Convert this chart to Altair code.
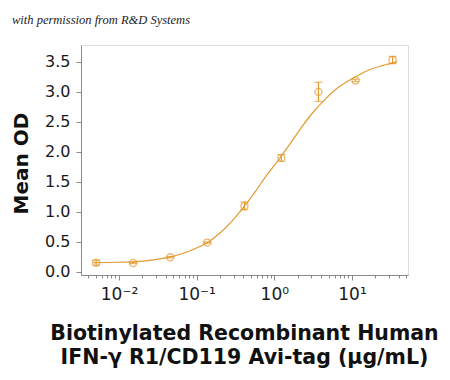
import altair as alt
import pandas as pd

# measured points
conc = [0.00508, 0.0152, 0.0457, 0.137, 0.412, 1.23, 3.70, 11.1, 33.3]
mean_od = [0.155, 0.150, 0.245, 0.490, 1.10, 1.90, 3.00, 3.19, 3.53]
sem = [0.04, 0.01, 0.01, 0.01, 0.065, 0.055, 0.16, 0.02, 0.06]

# fitted curve (log10 concentration, OD)
curve_log = [-2.33, -2.0, -1.8, -1.6, -1.4, -1.2, -1.0, -0.85, -0.7, -0.55, -0.4,
             -0.25, -0.1, 0.05, 0.2, 0.35, 0.5, 0.65, 0.8, 0.95, 1.1, 1.25, 1.4, 1.58]
curve_od = [0.155, 0.162, 0.172, 0.195, 0.235, 0.30, 0.40, 0.50, 0.65, 0.84, 1.07,
            1.33, 1.61, 1.86, 2.13, 2.41, 2.66, 2.87, 3.05, 3.18, 3.29, 3.38, 3.44, 3.50]

decade_labels = {0.01: "10⁻²", 0.1: "10⁻¹", 1: "10⁰", 10: "10¹"}
y_ticks = [0.0, 0.5, 1.0, 1.5, 2.0, 2.5, 3.0, 3.5]

x_domain = [0.003243, 52.6]
y_domain = [-0.05, 3.78]

x_ticks = [m * 10 ** e for e in range(-3, 2) for m in range(1, 10)]
x_ticks = [round(v, 6) for v in x_ticks if x_domain[0] <= v <= x_domain[1]]

pts = pd.DataFrame({"conc": conc, "od": mean_od,
                    "lo": [m - s for m, s in zip(mean_od, sem)],
                    "hi": [m + s for m, s in zip(mean_od, sem)]})
crv = pd.DataFrame({"conc": [10 ** v for v in curve_log], "od": curve_od})

COLOR = "#E39A2E"
AXC = "#8a8a8a"
FONT = "DejaVu Sans"

label_expr = " : ".join(
    f"datum.value == {k} ? '{v}'" for k, v in decade_labels.items()) + " : ''"
is_decade = "abs(log(datum.value)/LN10 - round(log(datum.value)/LN10)) < 0.001"

x_axis = alt.Axis(
    values=x_ticks, labelExpr=label_expr, labelOverlap=False, labelFlush=False,
    tickSize={"condition": {"test": is_decade, "value": 5}, "value": 3},
    tickColor=AXC, domainColor=AXC, grid=False,
    labelFont=FONT, labelFontSize=17, labelColor="#1a1a1a", labelPadding=6,
    title=["Biotinylated Recombinant Human", "IFN-γ R1/CD119 Avi-tag (µg/mL)"],
    titleFont=FONT, titleFontSize=20.5, titleFontWeight="bold", titleColor="#111111",
    titleLineHeight=24, titleBaseline="alphabetic", titleY=64, titleX=163,
    titleAnchor="middle",
)
y_axis = alt.Axis(
    values=y_ticks, format=".1f", tickSize=5, tickColor=AXC, domainColor=AXC,
    grid=False, labelFont=FONT, labelFontSize=16, labelColor="#1a1a1a", labelPadding=6,
    title="Mean OD", titleFont=FONT, titleFontSize=20, titleFontWeight="bold",
    titleColor="#111111", titleAngle=-90, titleBaseline="alphabetic",
    titleX=-54, titleY=118, titleAlign="center",
)

xs = alt.Scale(type="log", domain=x_domain, nice=False)
ys = alt.Scale(domain=y_domain, nice=False, zero=False)

line = alt.Chart(crv).mark_line(color=COLOR, strokeWidth=1.2, interpolate="monotone").encode(
    x=alt.X("conc:Q", scale=xs, axis=x_axis),
    y=alt.Y("od:Q", scale=ys, axis=y_axis),
)
bars = alt.Chart(pts).mark_rule(color=COLOR, strokeWidth=1.2).encode(
    x=alt.X("conc:Q", scale=xs, axis=x_axis),
    y=alt.Y("lo:Q", scale=ys, axis=y_axis),
    y2="hi:Q",
)
cap_lo = alt.Chart(pts).mark_tick(color=COLOR, size=8, thickness=1.2, orient="horizontal").encode(
    x=alt.X("conc:Q", scale=xs, axis=x_axis),
    y=alt.Y("lo:Q", scale=ys, axis=y_axis),
)
cap_hi = alt.Chart(pts).mark_tick(color=COLOR, size=8, thickness=1.2, orient="horizontal").encode(
    x=alt.X("conc:Q", scale=xs, axis=x_axis),
    y=alt.Y("hi:Q", scale=ys, axis=y_axis),
)
points = alt.Chart(pts).mark_point(shape="circle", filled=False, color=COLOR, size=50,
                                   strokeWidth=1.3).encode(
    x=alt.X("conc:Q", scale=xs, axis=x_axis),
    y=alt.Y("od:Q", scale=ys, axis=y_axis),
)

chart = alt.layer(line, bars, cap_lo, cap_hi, points).properties(
    width=327, height=230,
    autosize=alt.AutoSizeParams(type="none"),
    padding={"left": 73, "top": 37, "right": 34, "bottom": 97},
    title=alt.TitleParams(
        "with permission from R&D Systems", anchor="start", frame="group",
        font="Liberation Serif", fontStyle="italic", fontSize=12.5, fontWeight="normal",
        color="#222222", dx=-69, offset=9, baseline="alphabetic", orient="top",
    ),
).configure_view(stroke=None).configure(background="white")

chart.save("out.html", embed_options={"renderer": "svg", "actions": False})
